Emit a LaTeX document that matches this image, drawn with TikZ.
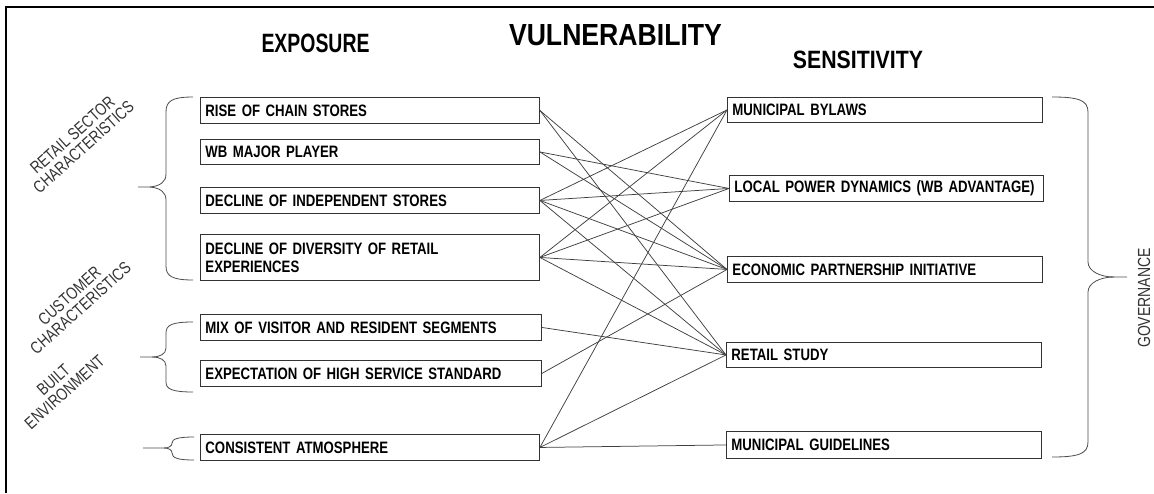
\documentclass[tikz,border=0pt]{standalone}
\usepackage{fontspec}
\usepackage{graphicx}
\setmainfont{Liberation Sans}
\newfontfamily\boxfont[FakeStretch=0.8]{Liberation Sans}
\newfontfamily\labfont[FakeStretch=0.8]{Liberation Sans}
\begin{document}
\begin{tikzpicture}[x=1pt,y=-1pt,
  ebox/.style={draw=black!80, line width=0.9pt, inner xsep=5pt, inner ysep=0pt,
    anchor=north west, align=left, text=black,
    font=\boxfont\bfseries\fontsize{16.5}{18}\selectfont},
  conn/.style={draw=black!75, line width=0.75pt},
  brace/.style={draw=black!70, line width=0.8pt},
  lab/.style={inner sep=0pt, align=center, text=black!80,
    font=\labfont\fontsize{17}{16.5}\selectfont},
  head/.style={inner sep=0pt}]
\useasboundingbox (0,0) rectangle (1154,493);
% frame
\draw[line width=2pt, black] (6,493) -- (6,7) -- (1154,7);
% headings
\node[head] (vul) at (615.5,35.5) {\resizebox{213pt}{21pt}{\bfseries VULNERABILITY}};
\node[head] (expo) at (315.5,43.5) {\resizebox{108pt}{18.5pt}{\bfseries EXPOSURE}};
\node[head] (sens) at (858,59.5) {\resizebox{130pt}{17.5pt}{\bfseries SENSITIVITY}};
% left boxes
\node[ebox, minimum height=26pt, text width=329pt] (L1) at (200,97) {RISE OF CHAIN STORES};
\node[ebox, minimum height=25pt, text width=329pt] (L2) at (200,139) {WB MAJOR PLAYER};
\node[ebox, minimum height=26pt, text width=329pt] (L3) at (200,187) {DECLINE OF INDEPENDENT STORES};
\node[ebox, minimum height=46pt, text width=329pt] (L4) at (200,234) {DECLINE OF DIVERSITY OF RETAIL\\EXPERIENCES};
\node[ebox, minimum height=26pt, text width=331pt] (L5) at (200,314) {MIX OF VISITOR AND RESIDENT SEGMENTS};
\node[ebox, minimum height=26pt, text width=331pt] (L6) at (200,360) {EXPECTATION OF HIGH SERVICE STANDARD};
\node[ebox, minimum height=26pt, text width=329pt] (L7) at (200,434) {CONSISTENT ATMOSPHERE};
% right boxes
\node[ebox, minimum height=25pt, text width=305pt] (R1) at (727,97) {MUNICIPAL BYLAWS};
\node[ebox, minimum height=26pt, text width=304pt] (R2) at (729,175) {LOCAL POWER DYNAMICS (WB ADVANTAGE)};
\node[ebox, minimum height=26pt, text width=305pt] (R3) at (727,256) {ECONOMIC PARTNERSHIP INITIATIVE};
\node[ebox, minimum height=25pt, text width=305pt] (R4) at (726,342) {RETAIL STUDY};
\node[ebox, minimum height=27pt, text width=305pt] (R5) at (726,431) {MUNICIPAL GUIDELINES};
% connectors
\draw[conn] (L1.east) -- (R3.west);
\draw[conn] (L1.east) -- (R4.west);
\draw[conn] (L2.east) -- (R2.west);
\draw[conn] (L2.east) -- (R3.west);
\draw[conn] (L3.east) -- (R1.west);
\draw[conn] (L3.east) -- (R2.west);
\draw[conn] (L3.east) -- (R3.west);
\draw[conn] (L3.east) -- (R4.west);
\draw[conn] (L4.east) -- (R1.west);
\draw[conn] (L4.east) -- (R2.west);
\draw[conn] (L4.east) -- (R3.west);
\draw[conn] (L4.east) -- (R4.west);
\draw[conn] (L5.east) -- (R4.west);
\draw[conn] (L6.east) -- (R3.west);
\draw[conn] (L7.east) -- (R1.west);
\draw[conn] (L7.east) -- (R4.west);
\draw[conn] (L7.east) -- (R5.west);
% left braces
\draw[brace] (193,97) .. controls (172,97) and (166,101) .. (166,112) -- (166,174)
  .. controls (166,182) and (160,186) .. (150,187) -- (138,187);
\draw[brace] (150,187) .. controls (160,188) and (166,192) .. (166,200) -- (166,266)
  .. controls (166,276) and (172,280) .. (193,280);
\draw[brace] (193,322) .. controls (172,322) and (166,325) .. (166,333) -- (166,348)
  .. controls (166,354) and (160,357) .. (152,357) -- (140,357);
\draw[brace] (152,357) .. controls (160,357) and (166,360) .. (166,366) -- (166,382)
  .. controls (166,389) and (172,392) .. (193,392);
\draw[brace] (194,437) .. controls (178,437) and (172,439) .. (172,443)
  .. controls (172,446) and (169,448) .. (164,448) -- (143,448);
\draw[brace] (164,448) .. controls (169,448) and (172,450) .. (172,453)
  .. controls (172,458) and (178,460) .. (194,460);
% right brace
\draw[brace] (1052,97) .. controls (1078,97) and (1088,100) .. (1088,112) -- (1088,262)
  .. controls (1088,271) and (1100,277) .. (1114,277) -- (1127,277);
\draw[brace] (1114,277) .. controls (1100,277) and (1088,283) .. (1088,292) -- (1088,442)
  .. controls (1088,454) and (1078,457) .. (1052,457);
% group labels
\node[lab, rotate=42] (gret) at (78,141) {RETAIL SECTOR\\CHARACTERISTICS};
\node[lab, rotate=42] (gcus) at (75,302) {CUSTOMER\\CHARACTERISTICS};
\node[lab, rotate=42] (gbui) at (59,386) {BUILT\\ENVIRONMENT};
\node[lab, rotate=90, font=\labfont\fontsize{17.5}{17.5}\selectfont] (ggov) at (1144,298) {GOVERNANCE};
\end{tikzpicture}
\end{document}
